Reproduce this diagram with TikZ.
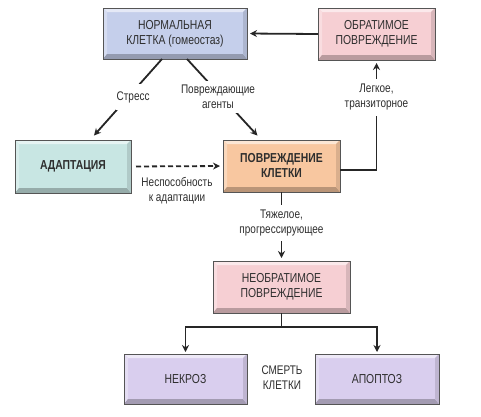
\documentclass[tikz,border=0pt]{standalone}
\usepackage{fontspec}
\setmainfont{Liberation Sans}[FakeStretch=0.8]
\usetikzlibrary{arrows.meta}
\definecolor{txt}{HTML}{2E2E2E}
\definecolor{cblue}{HTML}{C5CFEB}
\definecolor{cpink}{HTML}{F6CFD3}
\definecolor{cteal}{HTML}{C8E6E3}
\definecolor{corange}{HTML}{F8C7A0}
\definecolor{cpurple}{HTML}{D9CEEE}
\definecolor{edgec}{HTML}{555555}
\newcommand\bev[2]{%
 \fill[#2!45!white] (#1.north west) -- (#1.north east) -- ([shift={(-4pt,-4pt)}]#1.north east) -- ([shift={(4pt,-4pt)}]#1.north west) -- cycle;
 \fill[#2!70!white] (#1.north west) -- ([shift={(4pt,-4pt)}]#1.north west) -- ([shift={(4pt,5pt)}]#1.south west) -- (#1.south west) -- cycle;
 \fill[#2!75!black] (#1.south west) -- ([shift={(4pt,5pt)}]#1.south west) -- ([shift={(-4pt,5pt)}]#1.south east) -- (#1.south east) -- cycle;
 \fill[#2!88!black] (#1.north east) -- (#1.south east) -- ([shift={(-4pt,5pt)}]#1.south east) -- ([shift={(-4pt,-4pt)}]#1.north east) -- cycle;
 \draw[edgec, line width=0.6pt] (#1.north west) rectangle (#1.south east);
}
\tikzset{
 boxn/.style={fill=#1, inner sep=0pt, outer sep=0pt, align=center, text=txt, font=\fontsize{13}{15}\selectfont},
 lbl/.style={fill=white, align=center, text=txt, font=\fontsize{12.5}{15}\selectfont, inner xsep=1pt},
 arr/.style={line width=1.8pt, draw=black!85, -{Stealth[length=7pt,width=7pt]}},
}
\begin{document}
\begin{tikzpicture}[x=1pt,y=-1pt]
\fill[white] (0,0) rectangle (481,416);
\useasboundingbox (0,0) rectangle (481,416);
\node[boxn=cblue, minimum width=144pt, minimum height=51pt] (norm) at (175,33.5) {НОРМАЛЬНАЯ\\КЛЕТКА (гомеостаз)};
\node[boxn=cpink, minimum width=117pt, minimum height=52pt] (obr) at (376.5,34) {ОБРАТИМОЕ\\ПОВРЕЖДЕНИЕ};
\node[boxn=cteal, minimum width=116pt, minimum height=53pt, font=\fontsize{13}{15}\selectfont\bfseries] (adapt) at (73,166.5) {АДАПТАЦИЯ};
\node[boxn=corange, minimum width=117pt, minimum height=52pt, font=\fontsize{13}{15}\selectfont\bfseries] (pov) at (281.5,166) {ПОВРЕЖДЕНИЕ\\КЛЕТКИ};
\node[boxn=cpink, minimum width=137pt, minimum height=52pt] (nebr) at (281.5,287) {НЕОБРАТИМОЕ\\ПОВРЕЖДЕНИЕ};
\node[boxn=cpurple, minimum width=123pt, minimum height=50pt] (necro) at (185.5,379) {НЕКРОЗ};
\node[boxn=cpurple, minimum width=124pt, minimum height=50pt] (apop) at (377,379) {АПОПТОЗ};
\bev{norm}{cblue}
\bev{obr}{cpink}
\bev{adapt}{cteal}
\bev{pov}{corange}
\bev{nebr}{cpink}
\bev{necro}{cpurple}
\bev{apop}{cpurple}
\node[text=txt, align=center, font=\fontsize{12.5}{15}\selectfont] (death) at (282,378) {СМЕРТЬ\\КЛЕТКИ};
% connectors
\draw[arr, shorten >=3pt] (obr.west) -- (norm.east);
\draw[arr, shorten >=6pt] ([xshift=-13pt]norm.south) -- node[lbl, pos=0.47, xshift=5pt, inner ysep=7pt] {Стресс} ([xshift=17pt]adapt.north);
\draw[arr, shorten >=6pt] ([xshift=12pt]norm.south) -- node[lbl, pos=0.47, xshift=-4pt, inner ysep=4pt] {Повреждающие\\агенты} ([xshift=-20pt]pov.north);
\draw[arr, shorten >=3pt] ([yshift=-4pt]pov.east) -| node[lbl, pos=0.83, inner ysep=5pt] {Легкое,\\транзиторное} (obr.south);
\draw[arr, dash pattern=on 5pt off 3pt, shorten <=5pt, shorten >=3pt] (adapt.east) -- node[lbl, midway, yshift=-24pt] {Неспособность\\к адаптации} (pov.west);
\draw[arr, shorten >=3pt] (pov.south) -- node[lbl, pos=0.45, inner ysep=5pt] {Тяжелое,\\прогрессирующее} (nebr.north);
\draw[arr, shorten >=2pt] (nebr.south) -- ++(0,14) -| (necro.north);
\draw[arr, shorten >=2pt] (nebr.south) -- ++(0,14) -| (apop.north);
\end{tikzpicture}
\end{document}
